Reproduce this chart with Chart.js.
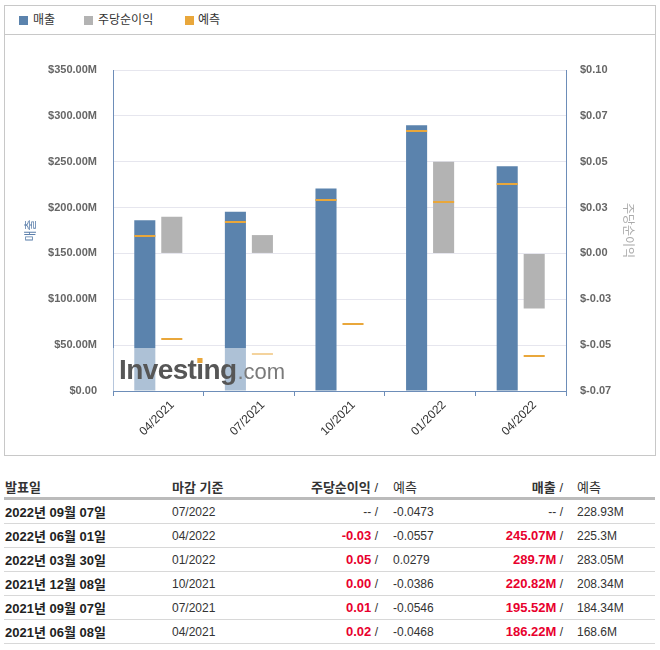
<!DOCTYPE html>
<html>
<head>
<meta charset="utf-8">
<script src="https://cdn.jsdelivr.net/npm/chart.js@4.4.1/dist/chart.umd.min.js"></script>
<style>
body { margin: 0; background: #fff; font-family: "Liberation Sans", Arial, "Noto Sans CJK KR", sans-serif; }
#box { position: absolute; left: 4px; top: 5px; width: 650px; height: 449px; border: 1px solid #c8c8c8; }
#legend { position: relative; height: 28px; border-bottom: 1px solid #c8c8c8; font-family: "Noto Sans CJK KR", sans-serif; font-size: 12px; color: #333; }
.lg { position: absolute; top: 5px; line-height: 16px; }
.sw { position: absolute; top: 4px; width: 9px; height: 9px; }
#wrap { position: absolute; left: 0; top: 29px; width: 650px; height: 420px; }
table { position: absolute; left: 4px; top: 475px; width: 651px; border-spacing: 0; table-layout: fixed; font-size: 12px; color: #333; }
th { height: 22px; padding: 0; border-bottom: 3px solid #bbb; font-size: 13px; color: #333; text-align: left; }
td { height: 23px; padding: 0; border-bottom: 1px solid #d8d8d8; white-space: nowrap; }
.c1 { padding-left: 1px; }
.c3 { text-align: right; padding-right: 2px; }
.c4 { padding-left: 13px; }
.c5 { text-align: right; padding-right: 3px; }
.c6 { padding-left: 11px; }
td.c1 { font-weight: bold; font-size: 13px; color: #222; }
.red { color: #e8002d; font-weight: bold; font-size: 13px; }
.th-n { font-weight: normal; }
</style>
</head>
<body>
<div id="box">
  <div id="legend">
    <span class="sw" style="left:14px;top:10px;background:#5b83ad"></span><span class="lg" style="left:28px">매출</span>
    <span class="sw" style="left:79px;top:10px;background:#b3b3b3"></span><span class="lg" style="left:93px">주당순이익</span>
    <span class="sw" style="left:180px;top:10px;background:#e9a73b"></span><span class="lg" style="left:193px">예측</span>
  </div>
  <div id="wrap"><canvas id="chart" width="650" height="420"></canvas></div>
</div>
<table id="tbl">
  <colgroup><col style="width:168px"><col style="width:130px"><col style="width:78px"><col style="width:90px"><col style="width:96px"><col style="width:89px"></colgroup>
  <thead><tr>
    <th class="c1">발표일</th><th>마감 기준</th>
    <th class="c3">주당순이익 <span class="th-n">/</span></th><th class="c4 th-n">예측</th>
    <th class="c5">매출 <span class="th-n">/</span></th><th class="c6 th-n">예측</th>
  </tr></thead>
  <tbody></tbody>
</table>
<script>
// chart data
const periods = ['04/2021', '07/2021', '10/2021', '01/2022', '04/2022']
const revenue = [186.22, 195.52, 220.82, 289.7, 245.07]
const revenueForecast = [168.6, 184.34, 208.34, 283.05, 225.3]
const eps = [0.02, 0.01, 0.00, 0.05, -0.03]
const epsForecast = [-0.0468, -0.0546, -0.0386, 0.0279, -0.0557]
const revTicks = ['$0.00', '$50.00M', '$100.00M', '$150.00M', '$200.00M', '$250.00M', '$300.00M', '$350.00M']
const epsTicks = ['$-0.07', '$-0.05', '$-0.03', '$0.00', '$0.03', '$0.05', '$0.07', '$0.10']

// table data
const tblDates = ['2022년 09월 07일', '2022년 06월 01일', '2022년 03월 30일', '2021년 12월 08일', '2021년 09월 07일', '2021년 06월 08일']
const tblPeriods = ['07/2022', '04/2022', '01/2022', '10/2021', '07/2021', '04/2021']
const tblEps = ['--', '-0.03', '0.05', '0.00', '0.01', '0.02']
const tblEpsF = ['-0.0473', '-0.0557', '0.0279', '-0.0386', '-0.0546', '-0.0468']
const tblRev = ['--', '245.07M', '289.7M', '220.82M', '195.52M', '186.22M']
const tblRevF = ['228.93M', '225.3M', '283.05M', '208.34M', '184.34M', '168.6M']

const tbody = document.querySelector('#tbl tbody')
tblDates.forEach((d, i) => {
  const val = (s) => s === '--' ? '-- /' : '<span class="red">' + s + '</span> /'
  const tr = document.createElement('tr')
  tr.innerHTML = '<td class="c1">' + d + '</td><td>' + tblPeriods[i] + '</td>' +
    '<td class="c3">' + val(tblEps[i]) + '</td><td class="c4">' + tblEpsF[i] + '</td>' +
    '<td class="c5">' + val(tblRev[i]) + '</td><td class="c6">' + tblRevF[i] + '</td>'
  tbody.appendChild(tr)
})

const axisBlue = '#6d8db8'

const forecastMarks = {
  id: 'forecastMarks',
  afterDatasetsDraw(chart) {
    const ctx = chart.ctx
    ctx.save()
    ctx.fillStyle = '#e9a73b'
    const sets = [[0, revenueForecast, 'y'], [1, epsForecast, 'y1']]
    sets.forEach(([di, vals, ax]) => {
      const meta = chart.getDatasetMeta(di)
      const scale = chart.scales[ax]
      meta.data.forEach((bar, i) => {
        const y = Math.round(scale.getPixelForValue(vals[i]))
        ctx.fillRect(bar.x - bar.width / 2, y - 1, bar.width, 2)
      })
    })

    // watermark
    const a = chart.chartArea
    ctx.fillStyle = 'rgba(255,255,255,0.5)'
    ctx.fillRect(a.left, a.bottom - 43, 170, 43)
    ctx.textBaseline = 'alphabetic'
    ctx.font = 'bold 28px "Liberation Sans", Arial'
    ctx.letterSpacing = '-0.6px'
    const x0 = a.left + 6
    const yb = a.bottom - 12
    ctx.fillStyle = '#565656'
    ctx.fillText('Investing', x0, yb)
    const wInv = ctx.measureText('Invest').width
    const wI = ctx.measureText('i').width
    const wAll = ctx.measureText('Investing').width
    ctx.fillStyle = '#e9a73b'
    ctx.fillRect(x0 + wInv + 1, yb - 21, wI - 2, 5)
    ctx.letterSpacing = '0px'
    ctx.font = '22px "Liberation Sans", Arial'
    ctx.fillStyle = '#7a7a7a'
    ctx.fillText('.com', x0 + wAll + 1, yb)
    ctx.restore()
  }
}

const ctx = document.getElementById('chart').getContext('2d')
new Chart(ctx, {
  type: 'bar',
  data: {
    labels: periods,
    datasets: [
      { label: '매출', data: revenue, yAxisID: 'y', backgroundColor: '#5b83ad' },
      { label: '주당순이익', data: eps, yAxisID: 'y1', backgroundColor: '#b3b3b3' }
    ]
  },
  options: {
    responsive: false,
    animation: false,
    devicePixelRatio: 1,
    categoryPercentage: 0.596,
    barPercentage: 0.78,
    layout: { padding: { top: 35, left: 0, right: 0, bottom: 0 } },
    plugins: { legend: { display: false }, tooltip: { enabled: false } },
    scales: {
      x: {
        grid: { offset: true, drawOnChartArea: false, tickLength: 5, color: axisBlue },
        border: { color: axisBlue },
        ticks: { minRotation: 45, maxRotation: 45, labelOffset: 14, padding: 2, color: '#333', font: { size: 12, family: '"Liberation Sans", Arial' } },
        afterFit(s) { s.height = 64 }
      },
      y: {
        position: 'left',
        min: 0, max: 350,
        stacked: false,
        ticks: { stepSize: 50, padding: 16, color: '#666', font: { size: 11, weight: 'bold', family: '"Liberation Sans", Arial' }, callback: (v, i) => revTicks[i] },
        grid: { color: '#e6e6ee', drawTicks: false },
        border: { color: axisBlue },
        title: { display: true, text: '매출', color: '#5b7fab', font: { size: 12, family: '"Noto Sans CJK KR"' }, padding: { top: 18, bottom: 0 } },
        afterFit(s) { s.width = 108 }
      },
      y1: {
        position: 'right',
        min: -0.075, max: 0.1,
        stacked: false,
        ticks: { stepSize: 0.025, padding: 14, color: '#666', font: { size: 11, weight: 'bold', family: '"Liberation Sans", Arial' }, callback: (v, i) => epsTicks[i] },
        grid: { drawOnChartArea: false, drawTicks: false },
        border: { color: axisBlue },
        title: { display: true, text: '주당순이익', color: '#aaaaaa', font: { size: 12, family: '"Noto Sans CJK KR"' }, padding: { top: 19, bottom: 0 } },
        afterFit(s) { s.width = 89 }
      }
    }
  },
  plugins: [forecastMarks]
})
</script>
</body>
</html>
